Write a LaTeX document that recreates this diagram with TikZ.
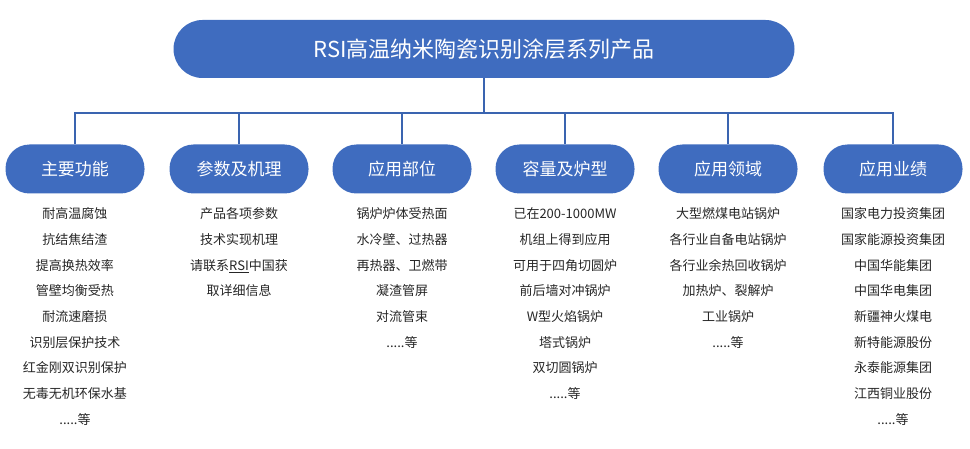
\documentclass[tikz,border=0pt]{standalone}
\usepackage{fontspec}
\setmainfont{Noto Sans CJK SC}
\usetikzlibrary{positioning}
\definecolor{boxblue}{HTML}{3F6CBF}
\definecolor{lineblue}{HTML}{3A64B0}
\tikzset{
  headbox/.style={rounded corners=24pt, fill=boxblue, text=white, minimum width=139pt, minimum height=49pt, font=\fontsize{17}{20}\selectfont},
  topbox/.style={rounded corners=29pt, fill=boxblue, text=white, minimum width=621pt, minimum height=58pt, font=\fontsize{22}{26}\selectfont},
  itemlist/.style={align=center, font=\fontsize{13}{25.7}\selectfont, anchor=north, text=black!85},
}
\begin{document}
\begin{tikzpicture}[x=1pt, y=-1pt, thick]
\useasboundingbox (0,0) rectangle (970,449);

% top
\node[topbox] (top) at (484, 49) {RSI高温纳米陶瓷识别涂层系列产品};

% categories
\node[headbox] (c1) at (75, 169) {主要功能};
\node[headbox] (c2) at (239, 169) {参数及机理};
\node[headbox] (c3) at (402, 169) {应用部位};
\node[headbox] (c4) at (565, 169) {容量及炉型};
\node[headbox] (c5) at (728, 169) {应用领域};
\node[headbox] (c6) at (893, 169) {应用业绩};

% connectors
\coordinate (bus) at (484, 113);
\draw[lineblue, line width=1.3pt] (top.south) -- (bus);
\draw[lineblue, line width=1.3pt] (c1.north) |- (bus) -| (c6.north);
\foreach \c in {c2,c3,c4,c5}
  \draw[lineblue, line width=1.3pt] (\c.north) -- (\c.north |- bus);

% lists
\node[itemlist] (l1) at (75, 204) {耐高温腐蚀\\抗结焦结渣\\提高换热效率\\管壁均衡受热\\耐流速磨损\\识别层保护技术\\红金刚双识别保护\\无毒无机环保水基\\.....等};
\node[itemlist] (l2) at (239, 204) {产品各项参数\\技术实现机理\\请联系\underline{RSI}中国获\\取详细信息};
\node[itemlist] (l3) at (402, 204) {锅炉炉体受热面\\水冷壁、过热器\\再热器、卫燃带\\凝渣管屏\\对流管束\\.....等};
\node[itemlist] (l4) at (565, 204) {已在200-1000MW\\机组上得到应用\\可用于四角切圆炉\\前后墙对冲锅炉\\W型火焰锅炉\\塔式锅炉\\双切圆锅炉\\.....等};
\node[itemlist] (l5) at (728, 204) {大型燃煤电站锅炉\\各行业自备电站锅炉\\各行业余热回收锅炉\\加热炉、裂解炉\\工业锅炉\\.....等};
\node[itemlist] (l6) at (893, 204) {国家电力投资集团\\国家能源投资集团\\中国华能集团\\中国华电集团\\新疆神火煤电\\新特能源股份\\永泰能源集团\\江西铜业股份\\.....等};
\end{tikzpicture}
\end{document}
